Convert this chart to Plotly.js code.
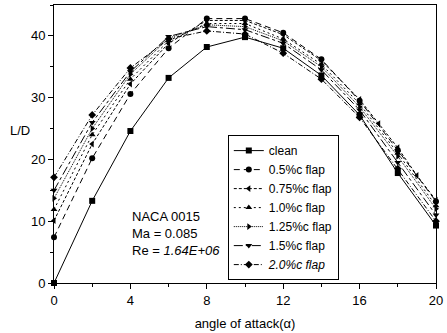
<!DOCTYPE html>
<html><head><meta charset="utf-8">
<script src="https://cdn.plot.ly/plotly-3.0.1.min.js"></script>
<style>html,body{margin:0;padding:0;background:#fff}#c{width:447px;height:333px}</style>
</head><body><div id="c"></div>
<script>
const alpha = [0, 2, 4, 6, 8, 10, 12, 14, 16, 18, 20];
const alpha075 = [0, 2, 4, 6, 8, 10, 12, 14, 16, 17, 18, 19, 20];
const clean   = [0, 13.3, 24.6, 33.2, 38.2, 39.8, 38.0, 33.6, 27.2, 17.8, 9.3];
const flap05  = [7.4, 20.2, 30.6, 38.0, 42.8, 42.8, 40.5, 36.2, 29.5, 21.5, 13.2];
const flap075 = [10.1, 22.5, 32.2, 38.8, 42.5, 42.5, 40.2, 36.0, 29.7, 25.8, 21.9, 17.4, 13.4];
const flap10  = [11.9, 24.0, 33.0, 39.2, 42.0, 42.0, 39.5, 35.4, 29.0, 21.0, 12.5];
const flap125 = [13.7, 25.0, 33.8, 39.6, 41.8, 41.5, 39.2, 35.0, 28.5, 20.5, 12.0];
const flap15  = [15.0, 26.0, 34.2, 39.9, 41.5, 41.0, 38.8, 34.5, 28.0, 19.5, 11.0];
const flap20  = [17.1, 27.2, 34.8, 39.5, 40.8, 40.3, 37.2, 33.0, 26.8, 18.5, 10.0];
const names = ['clean', '0.5%c flap', '0.75%c flap', '1.0%c flap', '1.25%c flap', '1.5%c flap', '<i>2.0%c flap</i>'];

function tr(x, y, name, dash, sym) {
  return {x: x, y: y, name: name, type: 'scatter', mode: 'lines+markers', cliponaxis: false,
    line: {color: '#000', width: 1, dash: dash},
    marker: {color: '#000', size: 6, symbol: sym}};
}
const data = [
  tr(alpha, clean, names[0], 'solid', 'square'),
  tr(alpha, flap05, names[1], '6px,4px', 'circle'),
  tr(alpha075, flap075, names[2], '3px,2px', 'triangle-left'),
  tr(alpha, flap10, names[3], '2px,3px', 'triangle-up'),
  tr(alpha, flap125, names[4], '1px,1px', 'triangle-right'),
  tr(alpha, flap15, names[5], 'dashdot', 'triangle-down'),
  tr(alpha, flap20, names[6], '5px,2px,1px,2px', 'diamond')
];
const font = {family: 'Liberation Sans, Arial, sans-serif', size: 12, color: '#000'};
const bigFont = {family: font.family, size: 13, color: '#000'};
const layout = {
  width: 447, height: 333,
  margin: {l: 54, r: 11, t: 5, b: 50},
  paper_bgcolor: '#fff', plot_bgcolor: '#fff',
  font: font,
  showlegend: true,
  legend: {x: 0.455, y: 0.532, xanchor: 'left', yanchor: 'top', bgcolor: '#fff',
    bordercolor: '#000', borderwidth: 1, font: {family: font.family, size: 12, color: '#000'},
    tracegroupgap: 0},
  xaxis: {range: [0, 20], tickvals: [0, 4, 8, 12, 16, 20], ticks: 'outside', ticklen: 5, tickwidth: 1,
    tickcolor: '#000', showline: true, linecolor: '#000', linewidth: 1, mirror: true,
    showgrid: false, zeroline: false,
    minor: {dtick: 2, ticks: 'outside', ticklen: 3, tickcolor: '#000', showgrid: false},
    title: {text: 'angle of attack(α)', font: bigFont, standoff: 12},
    tickfont: bigFont},
  yaxis: {range: [0, 45], tickvals: [0, 10, 20, 30, 40], ticks: 'outside', ticklen: 5, tickwidth: 1,
    tickcolor: '#000', showline: true, linecolor: '#000', linewidth: 1, mirror: true,
    showgrid: false, zeroline: false,
    minor: {dtick: 5, ticks: 'outside', ticklen: 3, tickcolor: '#000', showgrid: false},
    tickfont: bigFont},
  annotations: [
    {xref: 'paper', yref: 'paper', x: -0.058, y: 0.55, xanchor: 'right', yanchor: 'middle',
     text: 'L/D', showarrow: false, font: bigFont},
    {xref: 'paper', yref: 'paper', x: 0.199, y: 0.275, xanchor: 'left', yanchor: 'top', align: 'left',
     text: 'NACA 0015<br>Ma = 0.085<br>Re = <i>1.64E+06</i>', showarrow: false, font: bigFont}
  ]
};
Plotly.newPlot('c', data, layout, {displayModeBar: false, staticPlot: true});
</script></body></html>
